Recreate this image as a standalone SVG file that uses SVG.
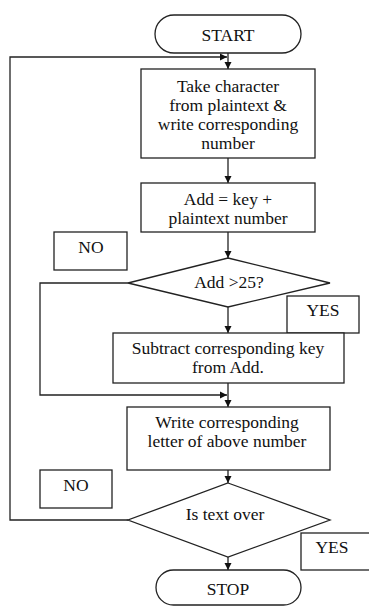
<svg xmlns="http://www.w3.org/2000/svg" width="369" height="606" viewBox="0 0 369 606">
<defs>
<style>
.s{fill:#fff;stroke:#222;stroke-width:1.3}
.l{fill:none;stroke:#222;stroke-width:1.3}
text{font-family:"Liberation Serif","Times New Roman",serif;font-size:17.5px;fill:#111;text-anchor:middle}
</style>
<marker id="a" markerWidth="8" markerHeight="8" refX="7" refY="4" orient="auto" markerUnits="userSpaceOnUse">
<path d="M0,0.5 L7,4 L0,7.5 Z" fill="#111"/>
</marker>
</defs>
<rect width="369" height="606" fill="#fff"/>
<g id="connectors">
<line class="l" x1="228" y1="53" x2="228" y2="69" marker-end="url(#a)"/>
<polyline class="l" points="128,520 10,520 10,57 227,57" marker-end="url(#a)"/>
<line class="l" x1="228" y1="158" x2="228" y2="183" marker-end="url(#a)"/>
<line class="l" x1="228" y1="232" x2="228" y2="258" marker-end="url(#a)"/>
<line class="l" x1="228" y1="307" x2="228" y2="333" marker-end="url(#a)"/>
<polyline class="l" points="128,283 40,283 40,395 227,395" marker-end="url(#a)"/>
<line class="l" x1="228" y1="383" x2="228" y2="407" marker-end="url(#a)"/>
<line class="l" x1="228" y1="470" x2="228" y2="483" marker-end="url(#a)"/>
<line class="l" x1="228" y1="557" x2="228" y2="570" marker-end="url(#a)"/>
</g>
<g id="start">
<rect class="s" x="155" y="15" width="146" height="38" rx="19"/>
<text x="228" y="41">START</text>
</g>
<g id="take">
<rect class="s" x="141" y="69" width="174" height="89"/>
<text x="228" y="92">Take character</text>
<text x="228" y="111">from plaintext &amp;</text>
<text x="228" y="130">write corresponding</text>
<text x="228" y="149">number</text>
</g>
<g id="add">
<rect class="s" x="141" y="183" width="174" height="49"/>
<text x="228" y="205">Add = key +</text>
<text x="228" y="224">plaintext number</text>
</g>
<g id="no1">
<rect class="s" x="54" y="232" width="73" height="38"/>
<text x="91" y="253">NO</text>
</g>
<g id="cond1">
<polygon class="s" points="228,258 330,283 228,307 128,283"/>
<text x="229" y="288">Add &gt;25?</text>
</g>
<g id="yes1">
<rect class="s" x="287" y="296" width="72" height="37"/>
<text x="323" y="316">YES</text>
</g>
<g id="subtract">
<rect class="s" x="113" y="333" width="231" height="50"/>
<text x="228" y="354">Subtract corresponding key</text>
<text x="228" y="373">from Add.</text>
</g>
<g id="write">
<rect class="s" x="127" y="407" width="203" height="63"/>
<text x="227" y="428">Write corresponding</text>
<text x="227" y="447">letter of above number</text>
</g>
<g id="no2">
<rect class="s" x="40" y="470" width="72" height="38"/>
<text x="76" y="491">NO</text>
</g>
<g id="cond2">
<polygon class="s" points="228,483 330,520 228,557 128,520"/>
<text x="225" y="520">Is text over</text>
</g>
<g id="yes2">
<rect class="s" x="301" y="533" width="70" height="37"/>
<text x="332" y="553">YES</text>
</g>
<g id="stop">
<rect class="s" x="156" y="570" width="145" height="35" rx="17.5"/>
<text x="228" y="595">STOP</text>
</g>
</svg>
